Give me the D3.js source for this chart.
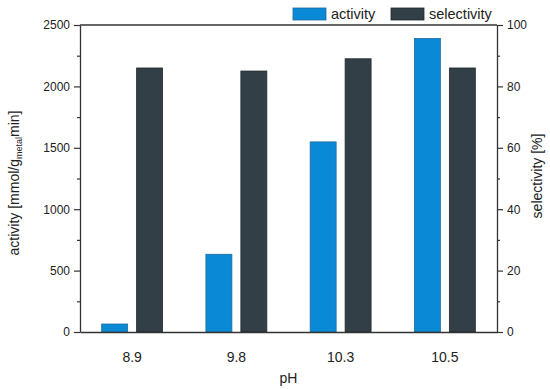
<!DOCTYPE html>
<html>
<head>
<meta charset="utf-8">
<script src="https://cdn.jsdelivr.net/npm/d3@7"></script>
<style>
  body { margin: 0; background: #fff; }
  svg { font-family: "Liberation Sans", Arial, sans-serif; }
</style>
</head>
<body>
<div id="chart"></div>
<script>
// data
const phLabels = ['8.9', '9.8', '10.3', '10.5'];
const activity = [65, 633, 1548, 2390];      // mmol/g_metal min (left axis)
const selectivity = [86, 85, 89, 86];        // % (right axis)
const actTicks = [0, 500, 1000, 1500, 2000, 2500];
const selTicks = [0, 20, 40, 60, 80, 100];
const seriesNames = ['activity', 'selectivity'];

const width = 550;
const height = 389;
const margin = { top: 25, right: 53, bottom: 57, left: 80 };
const colors = { activity: '#0a8ad6', selectivity: '#323f47' };
const strokes = { activity: '#1c6a9c', selectivity: '#20292e' };

const svg = d3.select('#chart')
  .append('svg')
  .attr('width', width)
  .attr('height', height);

const x = d3.scaleBand()
  .domain(phLabels)
  .range([margin.left, width - margin.right]);

const xSub = d3.scaleBand()
  .domain(seriesNames)
  .range([0, x.bandwidth()])
  .paddingInner(0.257)
  .paddingOuter(0.62);

const yAct = d3.scaleLinear()
  .domain([0, 2500])
  .range([height - margin.bottom, margin.top]);

const ySel = d3.scaleLinear()
  .domain([0, 100])
  .range([height - margin.bottom, margin.top]);

// bars
const rows = phLabels.map((p, i) => ({ ph: p, activity: activity[i], selectivity: selectivity[i] }));

const groups = svg.append('g')
  .selectAll('g')
  .data(rows)
  .enter()
  .append('g')
  .attr('transform', d => `translate(${x(d.ph)},0)`);

groups.append('rect')
  .attr('x', xSub('activity'))
  .attr('y', d => yAct(d.activity))
  .attr('width', xSub.bandwidth())
  .attr('height', d => yAct(0) - yAct(d.activity))
  .attr('fill', colors.activity)
  .attr('stroke', strokes.activity)
  .attr('stroke-width', 0.8);

groups.append('rect')
  .attr('x', xSub('selectivity'))
  .attr('y', d => ySel(d.selectivity))
  .attr('width', xSub.bandwidth())
  .attr('height', d => ySel(0) - ySel(d.selectivity))
  .attr('fill', colors.selectivity)
  .attr('stroke', strokes.selectivity)
  .attr('stroke-width', 0.8);

// axes
const axisColor = '#333';
const tickFont = '12px';

function styleAxis(g) {
  g.select('.domain').attr('stroke', axisColor).attr('stroke-width', 1.3);
  g.selectAll('.tick line').attr('stroke', axisColor).attr('stroke-width', 1.2);
  g.selectAll('.tick text').attr('fill', '#222').style('font-size', tickFont);
}

// minor ticks first so majors sit on top
svg.append('g')
  .attr('transform', `translate(${margin.left},0)`)
  .call(d3.axisLeft(yAct).tickValues(d3.range(250, 2500, 500)).tickSize(3).tickFormat(''))
  .call(g => g.select('.domain').remove())
  .call(g => g.selectAll('.tick line').attr('stroke', axisColor).attr('stroke-width', 1.2));

svg.append('g')
  .attr('transform', `translate(${width - margin.right},0)`)
  .call(d3.axisRight(ySel).tickValues(d3.range(10, 100, 20)).tickSize(3).tickFormat(''))
  .call(g => g.select('.domain').remove())
  .call(g => g.selectAll('.tick line').attr('stroke', axisColor).attr('stroke-width', 1.2));

svg.append('g')
  .attr('transform', `translate(${margin.left},0)`)
  .call(d3.axisLeft(yAct).tickValues(actTicks).tickFormat(d3.format('d'))
    .tickSize(6).tickSizeOuter(0).tickPadding(4))
  .call(styleAxis);

svg.append('g')
  .attr('transform', `translate(${width - margin.right},0)`)
  .call(d3.axisRight(ySel).tickValues(selTicks).tickFormat(d3.format('d'))
    .tickSize(6).tickSizeOuter(0).tickPadding(4))
  .call(styleAxis);

svg.append('g')
  .attr('transform', `translate(0,${height - margin.bottom})`)
  .call(d3.axisBottom(x).tickSize(0).tickPadding(20))
  .call(styleAxis)
  .call(g => g.selectAll('.tick text').style('font-size', '14px'));

// top frame line
svg.append('line')
  .attr('x1', margin.left)
  .attr('x2', width - margin.right)
  .attr('y1', margin.top)
  .attr('y2', margin.top)
  .attr('stroke', axisColor)
  .attr('stroke-width', 1.3);

// axis titles
svg.append('text')
  .attr('x', (margin.left + width - margin.right) / 2)
  .attr('y', 383)
  .attr('text-anchor', 'middle')
  .style('font-size', '14px')
  .attr('fill', '#222')
  .text('pH');

const yTitle = svg.append('text')
  .attr('transform', 'translate(19,183) rotate(-90)')
  .attr('text-anchor', 'middle')
  .style('font-size', '14px')
  .attr('fill', '#222');
yTitle.append('tspan').text('activity [mmol/g');
yTitle.append('tspan').attr('dy', 3).style('font-size', '9px').text('metal');
yTitle.append('tspan').attr('dy', -3).text('min]');

svg.append('text')
  .attr('transform', 'translate(542,176) rotate(-90)')
  .attr('text-anchor', 'middle')
  .style('font-size', '14px')
  .attr('fill', '#222')
  .text('selectivity [%]');

// legend
const legend = svg.append('g')
  .selectAll('g')
  .data([
    { name: 'activity', x: 293 },
    { name: 'selectivity', x: 391 }
  ])
  .enter()
  .append('g')
  .attr('transform', d => `translate(${d.x},8)`);

legend.append('rect')
  .attr('width', 33)
  .attr('height', 12)
  .attr('fill', d => colors[d.name])
  .attr('stroke', d => strokes[d.name])
  .attr('stroke-width', 0.8);

legend.append('text')
  .attr('x', 38)
  .attr('y', 11)
  .style('font-size', '14.5px')
  .attr('fill', '#222')
  .text(d => d.name);
</script>
</body>
</html>
